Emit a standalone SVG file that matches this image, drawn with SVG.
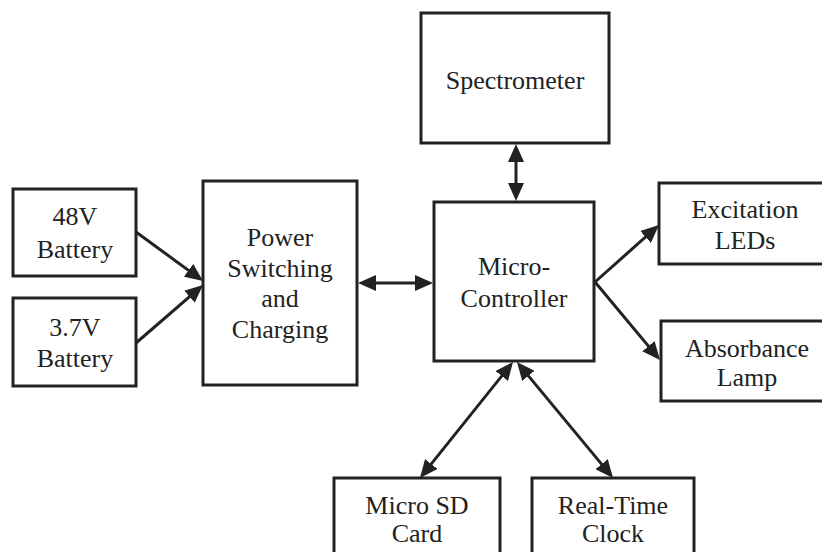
<svg xmlns="http://www.w3.org/2000/svg" width="822" height="552" viewBox="0 0 822 552">
<defs>
<style>
.box{fill:#fff;stroke:#222;stroke-width:3}
.lbl{font-family:"Liberation Serif","Times New Roman",serif;font-size:26px;fill:#222;text-anchor:middle}
.con{stroke:#222;stroke-width:3;fill:none}
</style>
<marker id="ah" viewBox="0 0 18 16" refX="14" refY="8" markerWidth="18" markerHeight="16" markerUnits="userSpaceOnUse" orient="auto-start-reverse">
<path d="M0,0 L18,8 L0,16 z" fill="#222"/>
</marker>
</defs>
<rect width="822" height="552" fill="#fff"/>
<g id="battery48">
<rect class="box" x="13" y="189" width="123" height="87"/>
<text class="lbl" x="75" y="225">48V</text>
<text class="lbl" x="75" y="258">Battery</text>
</g>
<g id="battery37">
<rect class="box" x="13" y="298" width="123" height="88"/>
<text class="lbl" x="75" y="336">3.7V</text>
<text class="lbl" x="75" y="367">Battery</text>
</g>
<g id="power">
<rect class="box" x="203" y="181" width="154" height="204"/>
<text class="lbl" x="280" y="246">Power</text>
<text class="lbl" x="280" y="277">Switching</text>
<text class="lbl" x="280" y="307">and</text>
<text class="lbl" x="280" y="338">Charging</text>
</g>
<g id="spectrometer">
<rect class="box" x="421" y="13" width="188" height="130"/>
<text class="lbl" x="515" y="89">Spectrometer</text>
</g>
<g id="micro">
<rect class="box" x="434" y="202" width="160" height="159"/>
<text class="lbl" x="514" y="275">Micro-</text>
<text class="lbl" x="514" y="307">Controller</text>
</g>
<g id="excitation">
<rect class="box" x="659" y="183" width="180" height="81"/>
<text class="lbl" x="745" y="218">Excitation</text>
<text class="lbl" x="745" y="249">LEDs</text>
</g>
<g id="absorbance">
<rect class="box" x="661" y="321" width="180" height="80"/>
<text class="lbl" x="747" y="357">Absorbance</text>
<text class="lbl" x="747" y="386">Lamp</text>
</g>
<g id="microsd">
<rect class="box" x="334" y="478" width="166" height="100"/>
<text class="lbl" x="417" y="514">Micro SD</text>
<text class="lbl" x="417" y="542">Card</text>
</g>
<g id="rtc">
<rect class="box" x="532" y="478" width="162" height="100"/>
<text class="lbl" x="613" y="514">Real-Time</text>
<text class="lbl" x="613" y="542">Clock</text>
</g>
<g id="connectors">
<line class="con" x1="136" y1="232" x2="199.8" y2="278.6" marker-end="url(#ah)"/>
<line class="con" x1="136" y1="343" x2="200" y2="287.6" marker-end="url(#ah)"/>
<line class="con" x1="516" y1="148" x2="516" y2="197" marker-start="url(#ah)" marker-end="url(#ah)"/>
<line class="con" x1="362" y1="283" x2="429" y2="283" marker-start="url(#ah)" marker-end="url(#ah)"/>
<line class="con" x1="595" y1="282" x2="656" y2="227.7" marker-end="url(#ah)"/>
<line class="con" x1="595" y1="282" x2="657.4" y2="356.9" marker-end="url(#ah)"/>
<line class="con" x1="510.5" y1="365.1" x2="422.5" y2="474.9" marker-start="url(#ah)" marker-end="url(#ah)"/>
<line class="con" x1="519.5" y1="365.1" x2="610.5" y2="474.9" marker-start="url(#ah)" marker-end="url(#ah)"/>
</g>
</svg>
